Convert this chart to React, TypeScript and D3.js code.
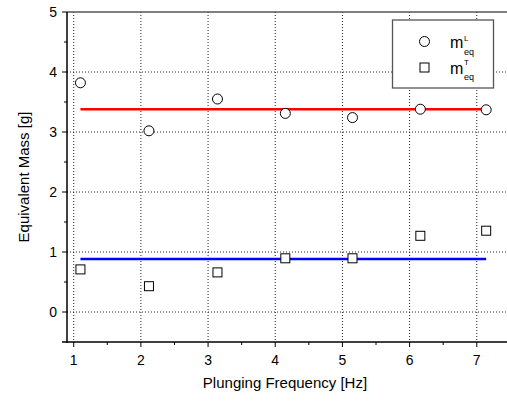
import React from "react";
import * as d3 from "d3";

const freqL = [1.1, 2.12, 3.14, 4.15, 5.15, 6.16, 7.14];
const massL = [3.82, 3.02, 3.55, 3.31, 3.24, 3.38, 3.37];
const freqT = [1.1, 2.12, 3.14, 4.15, 5.15, 6.16, 7.14];
const massT = [0.71, 0.43, 0.66, 0.895, 0.895, 1.27, 1.355];
const meanL = 3.38;
const meanT = 0.883;
const xTicks = [1, 2, 3, 4, 5, 6, 7];
const xMinor = [1.5, 2.5, 3.5, 4.5, 5.5, 6.5];
const yTicks = [0, 1, 2, 3, 4, 5];
const yMinor = [0.5, 1.5, 2.5, 3.5, 4.5];
const xTitle = "Plunging Frequency [Hz]";
const yTitle = "Equivalent Mass [g]";

const W = 507;
const H = 402;
const FONT = "'Liberation Sans', Arial, Helvetica, sans-serif";

export default function App() {
  const x = d3.scaleLinear().domain([0.9, 7.45]).range([67, 507]);
  const y = d3.scaleLinear().domain([-0.5, 5]).range([342, 12]);
  const [x0, x1] = x.range();
  const [yb, yt] = y.range();
  const lineGen = d3
    .line<[number, number]>()
    .x((d) => x(d[0]))
    .y((d) => y(d[1]));
  const sq = 9;
  return (
    <svg
      width={W}
      height={H}
      style={{ position: "absolute", left: 0, top: 0, background: "#fff" }}
      fontFamily={FONT}
    >
      <rect x={0} y={0} width={W} height={H} fill="#fff" />
      {/* grid */}
      {xTicks.map((t) => (
        <line
          key={"gx" + t}
          x1={x(t)}
          x2={x(t)}
          y1={yt}
          y2={yb}
          stroke="#222"
          strokeWidth={1}
          strokeDasharray="1,2"
        />
      ))}
      {yTicks
        .filter((t) => t < 5)
        .map((t) => (
          <line
            key={"gy" + t}
            x1={x0}
            x2={x1}
            y1={y(t)}
            y2={y(t)}
            stroke="#222"
            strokeWidth={1}
            strokeDasharray="1,2"
          />
        ))}
      {/* top frame */}
      <line x1={x0} x2={x1} y1={yt} y2={yt} stroke="#555" strokeWidth={1.5} />
      {/* mean lines */}
      <path
        d={lineGen([
          [freqL[0], meanL],
          [freqL[freqL.length - 1], meanL],
        ]) || ""}
        stroke="#ff0000"
        strokeWidth={2.5}
        fill="none"
      />
      <path
        d={lineGen([
          [freqT[0], meanT],
          [freqT[freqT.length - 1], meanT],
        ]) || ""}
        stroke="#0000ff"
        strokeWidth={2.5}
        fill="none"
      />
      {/* markers */}
      {freqL.map((f, i) => (
        <circle
          key={"c" + i}
          cx={x(f)}
          cy={y(massL[i])}
          r={5}
          fill="#fff"
          stroke="#000"
          strokeWidth={1}
        />
      ))}
      {freqT.map((f, i) => (
        <rect
          key={"s" + i}
          x={x(f) - sq / 2}
          y={y(massT[i]) - sq / 2}
          width={sq}
          height={sq}
          fill="#fff"
          stroke="#000"
          strokeWidth={1}
        />
      ))}
      {/* axes */}
      <line x1={x0} x2={x0} y1={yt} y2={yb + 0.75} stroke="#000" strokeWidth={1.5} />
      <line x1={x0 - 5} x2={x1} y1={yb} y2={yb} stroke="#000" strokeWidth={1.5} />
      {yTicks.map((t) => (
        <g key={"yt" + t}>
          <line x1={x0 - 5} x2={x0} y1={y(t)} y2={y(t)} stroke="#000" strokeWidth={1} />
          <text
            x={x0 - 10}
            y={y(t)}
            dy="0.35em"
            textAnchor="end"
            fontSize={14}
            fill="#000"
          >
            {t}
          </text>
        </g>
      ))}
      {yMinor.map((t) => (
        <line key={"ym" + t} x1={x0 - 3} x2={x0} y1={y(t)} y2={y(t)} stroke="#000" strokeWidth={1} />
      ))}
      {xTicks.map((t) => (
        <g key={"xt" + t}>
          <line x1={x(t)} x2={x(t)} y1={yb} y2={yb + 5} stroke="#000" strokeWidth={1} />
          <text x={x(t)} y={yb + 23} textAnchor="middle" fontSize={14} fill="#000">
            {t}
          </text>
        </g>
      ))}
      {xMinor.map((t) => (
        <line key={"xm" + t} x1={x(t)} x2={x(t)} y1={yb} y2={yb + 3} stroke="#000" strokeWidth={1} />
      ))}
      {/* titles */}
      <text
        x={(x0 + 493) / 2 + 5}
        y={388}
        textAnchor="middle"
        fontSize={15}
        fill="#000"
      >
        {xTitle}
      </text>
      <text
        transform={`translate(29,${(yt + yb) / 2}) rotate(-90)`}
        textAnchor="middle"
        fontSize={15}
        fill="#000"
      >
        {yTitle}
      </text>
      {/* legend */}
      <rect x={392.5} y={20} width={101} height={68} fill="#fff" stroke="#555" strokeWidth={1.3} />
      <circle cx={424.5} cy={41.5} r={5} fill="#fff" stroke="#000" strokeWidth={1} />
      <rect x={424.5 - sq / 2} y={67.5 - sq / 2} width={sq} height={sq} fill="#fff" stroke="#000" strokeWidth={1} />
      <text x={450} y={47.5} fontSize={16} fill="#000">m</text>
      <text x={464} y={41} fontSize={8} fill="#000">L</text>
      <text x={464} y={55} fontSize={9} fill="#000">eq</text>
      <text x={450} y={73.5} fontSize={16} fill="#000">m</text>
      <text x={464} y={65} fontSize={8} fill="#000">T</text>
      <text x={464} y={80} fontSize={9} fill="#000">eq</text>
    </svg>
  );
}
